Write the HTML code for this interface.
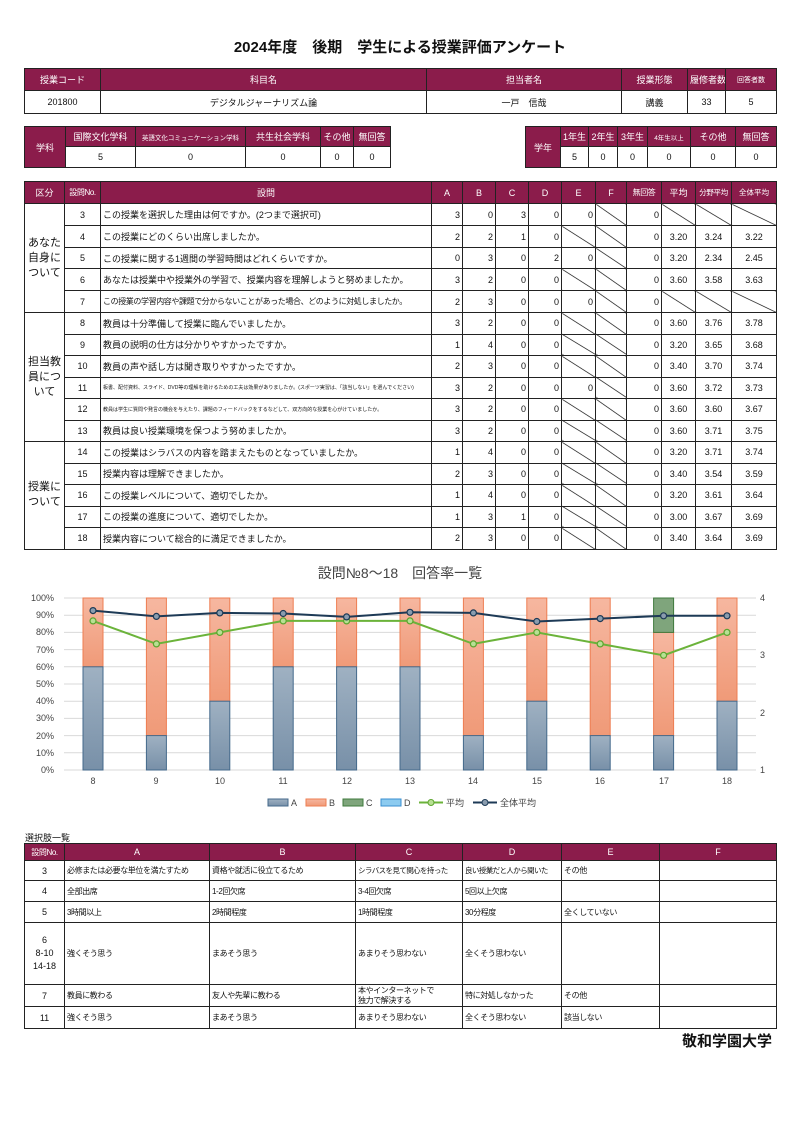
<!DOCTYPE html>
<html><head><meta charset="utf-8">
<style>
*{margin:0;padding:0;box-sizing:border-box}
body{width:800px;height:1131px;background:#fff;position:relative;font-family:"Liberation Sans","Noto Sans CJK JP",sans-serif;color:#111;overflow:hidden}
.t{position:absolute;border-collapse:collapse;table-layout:fixed;font-size:9px}
.t td{border:1px solid #222;text-align:center;vertical-align:middle;overflow:hidden;white-space:nowrap;padding:0 2px}
.t .h td,.t td.h{background:#8b1c4b;color:#fff}
.t{border:1.5px solid #222}
td.l{text-align:left!important}
td.r{text-align:right!important}
td.n{font-size:8px;letter-spacing:-0.4px}
td.s{background:linear-gradient(to top right,transparent calc(50% - 0.7px),#111 50%,transparent calc(50% + 0.7px))}
.title{position:absolute;top:36px;left:0;width:800px;text-align:center;font-size:15px;font-weight:bold}
</style></head><body>
<div class="title">2024年度　後期　学生による授業評価アンケート</div>

<table class="t" style="left:24px;top:68px;width:752px">
<colgroup><col style="width:76px"><col style="width:326px"><col style="width:195px"><col style="width:66px"><col style="width:38px"><col style="width:51px"></colgroup>
<tr class="h" style="height:22px"><td>授業コード</td><td>科目名</td><td>担当者名</td><td>授業形態</td><td>履修者数</td><td style="font-size:7px">回答者数</td></tr>
<tr style="height:23px"><td>201800</td><td>デジタルジャーナリズム論</td><td>一戸　信哉</td><td>講義</td><td>33</td><td>5</td></tr>
</table>

<table class="t" style="left:24px;top:126px;width:366px">
<colgroup><col style="width:41px"><col style="width:70px"><col style="width:110px"><col style="width:75px"><col style="width:33px"><col style="width:37px"></colgroup>
<tr style="height:20px"><td class="h" rowspan="2">学科</td><td class="h">国際文化学科</td><td class="h" style="font-size:6.5px">英語文化コミュニケーション学科</td><td class="h">共生社会学科</td><td class="h">その他</td><td class="h">無回答</td></tr>
<tr style="height:21px"><td>5</td><td>0</td><td>0</td><td>0</td><td>0</td></tr>
</table>

<table class="t" style="left:525px;top:126px;width:251px">
<colgroup><col style="width:35px"><col style="width:28px"><col style="width:29px"><col style="width:30px"><col style="width:43px"><col style="width:45px"><col style="width:41px"></colgroup>
<tr style="height:20px"><td class="h" rowspan="2">学年</td><td class="h">1年生</td><td class="h">2年生</td><td class="h">3年生</td><td class="h" style="font-size:6.5px">4年生以上</td><td class="h">その他</td><td class="h">無回答</td></tr>
<tr style="height:21px"><td>5</td><td>0</td><td>0</td><td>0</td><td>0</td><td>0</td></tr>
</table>

<table class="t" style="left:24px;top:181px;width:752px">
<colgroup><col style="width:40px"><col style="width:36px"><col style="width:331px"><col style="width:31px"><col style="width:33px"><col style="width:33px"><col style="width:33px"><col style="width:34px"><col style="width:31px"><col style="width:35px"><col style="width:34px"><col style="width:36px"><col style="width:45px"></colgroup>
<tr class="h" style="height:22px"><td>区分</td><td class="n">設問No.</td><td>設問</td><td>A</td><td>B</td><td>C</td><td>D</td><td>E</td><td>F</td><td class="n">無回答</td><td>平均</td><td class="n" style="font-size:7.5px">分野平均</td><td style="font-size:7.5px">全体平均</td></tr>
<tr style="height:22px"><td rowspan="5" style="font-size:11px;white-space:normal;line-height:15px">あなた<br>自身に<br>ついて</td><td>3</td><td class="l">この授業を選択した理由は何ですか。(2つまで選択可)</td><td class="r">3</td><td class="r">0</td><td class="r">3</td><td class="r">0</td><td class="r">0</td><td class="s"></td><td class="r">0</td><td class="s"></td><td class="s"></td><td class="s"></td></tr>
<tr style="height:22px"><td>4</td><td class="l">この授業にどのくらい出席しましたか。</td><td class="r">2</td><td class="r">2</td><td class="r">1</td><td class="r">0</td><td class="s"></td><td class="s"></td><td class="r">0</td><td>3.20</td><td>3.24</td><td>3.22</td></tr>
<tr style="height:21px"><td>5</td><td class="l">この授業に関する1週間の学習時間はどれくらいですか。</td><td class="r">0</td><td class="r">3</td><td class="r">0</td><td class="r">2</td><td class="r">0</td><td class="s"></td><td class="r">0</td><td>3.20</td><td>2.34</td><td>2.45</td></tr>
<tr style="height:22px"><td>6</td><td class="l">あなたは授業中や授業外の学習で、授業内容を理解しようと努めましたか。</td><td class="r">3</td><td class="r">2</td><td class="r">0</td><td class="r">0</td><td class="s"></td><td class="s"></td><td class="r">0</td><td>3.60</td><td>3.58</td><td>3.63</td></tr>
<tr style="height:22px"><td>7</td><td class="l n">この授業の学習内容や課題で分からないことがあった場合、どのように対処しましたか。</td><td class="r">2</td><td class="r">3</td><td class="r">0</td><td class="r">0</td><td class="r">0</td><td class="s"></td><td class="r">0</td><td class="s"></td><td class="s"></td><td class="s"></td></tr>
<tr style="height:21.5px"><td rowspan="6" style="font-size:11px;white-space:normal;line-height:15px">担当教<br>員につ<br>いて</td><td>8</td><td class="l">教員は十分準備して授業に臨んでいましたか。</td><td class="r">3</td><td class="r">2</td><td class="r">0</td><td class="r">0</td><td class="s"></td><td class="s"></td><td class="r">0</td><td>3.60</td><td>3.76</td><td>3.78</td></tr>
<tr style="height:21.5px"><td>9</td><td class="l">教員の説明の仕方は分かりやすかったですか。</td><td class="r">1</td><td class="r">4</td><td class="r">0</td><td class="r">0</td><td class="s"></td><td class="s"></td><td class="r">0</td><td>3.20</td><td>3.65</td><td>3.68</td></tr>
<tr style="height:21.5px"><td>10</td><td class="l">教員の声や話し方は聞き取りやすかったですか。</td><td class="r">2</td><td class="r">3</td><td class="r">0</td><td class="r">0</td><td class="s"></td><td class="s"></td><td class="r">0</td><td>3.40</td><td>3.70</td><td>3.74</td></tr>
<tr style="height:21.5px"><td>11</td><td class="l" style="font-size:5px">板書、配付資料、スライド、DVD等の理解を助けるための工夫は効果がありましたか。(スポーツ実習は、「該当しない」を選んでください)</td><td class="r">3</td><td class="r">2</td><td class="r">0</td><td class="r">0</td><td class="r">0</td><td class="s"></td><td class="r">0</td><td>3.60</td><td>3.72</td><td>3.73</td></tr>
<tr style="height:21.5px"><td>12</td><td class="l" style="font-size:5px">教員は学生に質問や発言の機会を与えたり、課題のフィードバックをするなどして、双方向的な授業を心がけていましたか。</td><td class="r">3</td><td class="r">2</td><td class="r">0</td><td class="r">0</td><td class="s"></td><td class="s"></td><td class="r">0</td><td>3.60</td><td>3.60</td><td>3.67</td></tr>
<tr style="height:21.5px"><td>13</td><td class="l">教員は良い授業環境を保つよう努めましたか。</td><td class="r">3</td><td class="r">2</td><td class="r">0</td><td class="r">0</td><td class="s"></td><td class="s"></td><td class="r">0</td><td>3.60</td><td>3.71</td><td>3.75</td></tr>
<tr style="height:21.5px"><td rowspan="5" style="font-size:11px;white-space:normal;line-height:15px">授業に<br>ついて</td><td>14</td><td class="l">この授業はシラバスの内容を踏まえたものとなっていましたか。</td><td class="r">1</td><td class="r">4</td><td class="r">0</td><td class="r">0</td><td class="s"></td><td class="s"></td><td class="r">0</td><td>3.20</td><td>3.71</td><td>3.74</td></tr>
<tr style="height:21.5px"><td>15</td><td class="l">授業内容は理解できましたか。</td><td class="r">2</td><td class="r">3</td><td class="r">0</td><td class="r">0</td><td class="s"></td><td class="s"></td><td class="r">0</td><td>3.40</td><td>3.54</td><td>3.59</td></tr>
<tr style="height:21.5px"><td>16</td><td class="l">この授業レベルについて、適切でしたか。</td><td class="r">1</td><td class="r">4</td><td class="r">0</td><td class="r">0</td><td class="s"></td><td class="s"></td><td class="r">0</td><td>3.20</td><td>3.61</td><td>3.64</td></tr>
<tr style="height:21.5px"><td>17</td><td class="l">この授業の進度について、適切でしたか。</td><td class="r">1</td><td class="r">3</td><td class="r">1</td><td class="r">0</td><td class="s"></td><td class="s"></td><td class="r">0</td><td>3.00</td><td>3.67</td><td>3.69</td></tr>
<tr style="height:21.5px"><td>18</td><td class="l">授業内容について総合的に満足できましたか。</td><td class="r">2</td><td class="r">3</td><td class="r">0</td><td class="r">0</td><td class="s"></td><td class="s"></td><td class="r">0</td><td>3.40</td><td>3.64</td><td>3.69</td></tr>
</table>

<svg style="position:absolute;left:0;top:0" width="800" height="1131" font-family="Liberation Sans, Noto Sans CJK JP, sans-serif">
<defs>
<linearGradient id="ga" x1="0" y1="0" x2="0" y2="1"><stop offset="0" stop-color="#9fb1c2"/><stop offset="1" stop-color="#7890a8"/></linearGradient>
<linearGradient id="gb" x1="0" y1="0" x2="0" y2="1"><stop offset="0" stop-color="#f6b7a0"/><stop offset="1" stop-color="#f09a78"/></linearGradient>
</defs>
<text x="400" y="578" text-anchor="middle" font-size="14" fill="#444">設問№8～18　回答率一覧</text>
<g stroke="#d9d9d9" stroke-width="1">
<line x1="64" x2="756" y1="598" y2="598"/><line x1="64" x2="756" y1="615.2" y2="615.2"/><line x1="64" x2="756" y1="632.4" y2="632.4"/><line x1="64" x2="756" y1="649.6" y2="649.6"/><line x1="64" x2="756" y1="666.8" y2="666.8"/><line x1="64" x2="756" y1="684" y2="684"/><line x1="64" x2="756" y1="701.2" y2="701.2"/><line x1="64" x2="756" y1="718.4" y2="718.4"/><line x1="64" x2="756" y1="735.6" y2="735.6"/><line x1="64" x2="756" y1="752.8" y2="752.8"/><line x1="64" x2="756" y1="770" y2="770"/>
</g>
<g font-size="9" fill="#444" text-anchor="end">
<text x="54" y="601">100%</text><text x="54" y="618">90%</text><text x="54" y="635">80%</text><text x="54" y="653">70%</text><text x="54" y="670">60%</text><text x="54" y="687">50%</text><text x="54" y="704">40%</text><text x="54" y="721">30%</text><text x="54" y="739">20%</text><text x="54" y="756">10%</text><text x="54" y="773">0%</text>
</g>
<g font-size="9" fill="#444"><text x="760" y="601">4</text><text x="760" y="658">3</text><text x="760" y="716">2</text><text x="760" y="773">1</text></g>
<g font-size="9" fill="#444" text-anchor="middle">
<text x="93" y="784">8</text><text x="156" y="784">9</text><text x="220" y="784">10</text><text x="283" y="784">11</text><text x="347" y="784">12</text><text x="410" y="784">13</text><text x="473" y="784">14</text><text x="537" y="784">15</text><text x="600" y="784">16</text><text x="664" y="784">17</text><text x="727" y="784">18</text>
</g>
<g stroke-width="1">
<g fill="url(#gb)" stroke="#ee7e52">
<rect x="83" y="598" width="20" height="68.8"/><rect x="146.4" y="598" width="20" height="137.6"/><rect x="209.8" y="598" width="20" height="103.2"/><rect x="273.2" y="598" width="20" height="68.8"/><rect x="336.6" y="598" width="20" height="68.8"/><rect x="400" y="598" width="20" height="68.8"/><rect x="463.4" y="598" width="20" height="137.6"/><rect x="526.8" y="598" width="20" height="103.2"/><rect x="590.2" y="598" width="20" height="137.6"/><rect x="653.6" y="632.4" width="20" height="103.2"/><rect x="717" y="598" width="20" height="103.2"/>
</g>
<rect x="653.6" y="598" width="20" height="34.4" fill="#7fa57c" stroke="#3f7a3d"/>
<g fill="url(#ga)" stroke="#44698b">
<rect x="83" y="666.8" width="20" height="103.2"/><rect x="146.4" y="735.6" width="20" height="34.4"/><rect x="209.8" y="701.2" width="20" height="68.8"/><rect x="273.2" y="666.8" width="20" height="103.2"/><rect x="336.6" y="666.8" width="20" height="103.2"/><rect x="400" y="666.8" width="20" height="103.2"/><rect x="463.4" y="735.6" width="20" height="34.4"/><rect x="526.8" y="701.2" width="20" height="68.8"/><rect x="590.2" y="735.6" width="20" height="34.4"/><rect x="653.6" y="735.6" width="20" height="34.4"/><rect x="717" y="701.2" width="20" height="68.8"/>
</g>
</g>
<polyline fill="none" stroke="#6bb33a" stroke-width="2" points="93,620.9 156.4,643.9 219.8,632.4 283.2,620.9 346.6,620.9 410,620.9 473.4,643.9 536.8,632.4 600.2,643.9 663.6,655.3 727,632.4"/>
<g fill="#b8e094" stroke="#5da52f" stroke-width="1.2">
<circle cx="93" cy="620.9" r="3"/><circle cx="156.4" cy="643.9" r="3"/><circle cx="219.8" cy="632.4" r="3"/><circle cx="283.2" cy="620.9" r="3"/><circle cx="346.6" cy="620.9" r="3"/><circle cx="410" cy="620.9" r="3"/><circle cx="473.4" cy="643.9" r="3"/><circle cx="536.8" cy="632.4" r="3"/><circle cx="600.2" cy="643.9" r="3"/><circle cx="663.6" cy="655.3" r="3"/><circle cx="727" cy="632.4" r="3"/>
</g>
<polyline fill="none" stroke="#1d3a56" stroke-width="2" points="93,610.6 156.4,616.4 219.8,612.9 283.2,613.5 346.6,616.9 410,612.3 473.4,612.9 536.8,621.5 600.2,618.6 663.6,615.8 727,615.8"/>
<g fill="#8a9cae" stroke="#1d3a56" stroke-width="1.2">
<circle cx="93" cy="610.6" r="3"/><circle cx="156.4" cy="616.4" r="3"/><circle cx="219.8" cy="612.9" r="3"/><circle cx="283.2" cy="613.5" r="3"/><circle cx="346.6" cy="616.9" r="3"/><circle cx="410" cy="612.3" r="3"/><circle cx="473.4" cy="612.9" r="3"/><circle cx="536.8" cy="621.5" r="3"/><circle cx="600.2" cy="618.6" r="3"/><circle cx="663.6" cy="615.8" r="3"/><circle cx="727" cy="615.8" r="3"/>
</g>
<g font-size="9" fill="#444">
<rect x="268" y="799" width="20" height="7" fill="url(#ga)" stroke="#44698b"/><text x="291" y="806">A</text>
<rect x="306" y="799" width="20" height="7" fill="url(#gb)" stroke="#ee7e52"/><text x="329" y="806">B</text>
<rect x="343" y="799" width="20" height="7" fill="#7fa57c" stroke="#3f7a3d"/><text x="366" y="806">C</text>
<rect x="381" y="799" width="20" height="7" fill="#8ccbf0" stroke="#3a8fd0"/><text x="404" y="806">D</text>
<line x1="419" x2="443" y1="802.5" y2="802.5" stroke="#6bb33a" stroke-width="2"/><circle cx="431" cy="802.5" r="3" fill="#b8e094" stroke="#5da52f"/><text x="446" y="806">平均</text>
<line x1="473" x2="497" y1="802.5" y2="802.5" stroke="#1d3a56" stroke-width="2"/><circle cx="485" cy="802.5" r="3" fill="#8a9cae" stroke="#1d3a56"/><text x="500" y="806">全体平均</text>
</g>
</svg>

<div style="position:absolute;left:25px;top:831px;font-size:9px">選択肢一覧</div>
<table class="t" style="left:24px;top:843px;width:752px">
<colgroup><col style="width:40px"><col style="width:145px"><col style="width:146px"><col style="width:107px"><col style="width:99px"><col style="width:98px"><col style="width:117px"></colgroup>
<tr class="h" style="height:17px"><td class="n">設問No.</td><td>A</td><td>B</td><td>C</td><td>D</td><td>E</td><td>F</td></tr>
<tr style="height:20px"><td>3</td><td class="l n">必修または必要な単位を満たすため</td><td class="l n">資格や就活に役立てるため</td><td class="l n" style="font-size:7.5px;letter-spacing:-0.6px">シラバスを見て関心を持った</td><td class="l n" style="font-size:7.5px;letter-spacing:-0.6px">良い授業だと人から聞いた</td><td class="l n">その他</td><td></td></tr>
<tr style="height:21px"><td>4</td><td class="l n">全部出席</td><td class="l n">1-2回欠席</td><td class="l n">3-4回欠席</td><td class="l n">5回以上欠席</td><td></td><td></td></tr>
<tr style="height:21px"><td>5</td><td class="l n">3時間以上</td><td class="l n">2時間程度</td><td class="l n">1時間程度</td><td class="l n">30分程度</td><td class="l n">全くしていない</td><td></td></tr>
<tr style="height:62px"><td style="line-height:13px">6<br>8-10<br>14-18</td><td class="l n">強くそう思う</td><td class="l n">まあそう思う</td><td class="l n">あまりそう思わない</td><td class="l n">全くそう思わない</td><td></td><td></td></tr>
<tr style="height:22px"><td>7</td><td class="l n">教員に教わる</td><td class="l n">友人や先輩に教わる</td><td class="l n" style="line-height:10px">本やインターネットで<br>独力で解決する</td><td class="l n">特に対処しなかった</td><td class="l n">その他</td><td></td></tr>
<tr style="height:22px"><td>11</td><td class="l n">強くそう思う</td><td class="l n">まあそう思う</td><td class="l n">あまりそう思わない</td><td class="l n">全くそう思わない</td><td class="l n">該当しない</td><td></td></tr>
</table>
<div style="position:absolute;right:28px;top:1030px;font-size:15px;font-weight:bold">敬和学園大学</div>
</body></html>
